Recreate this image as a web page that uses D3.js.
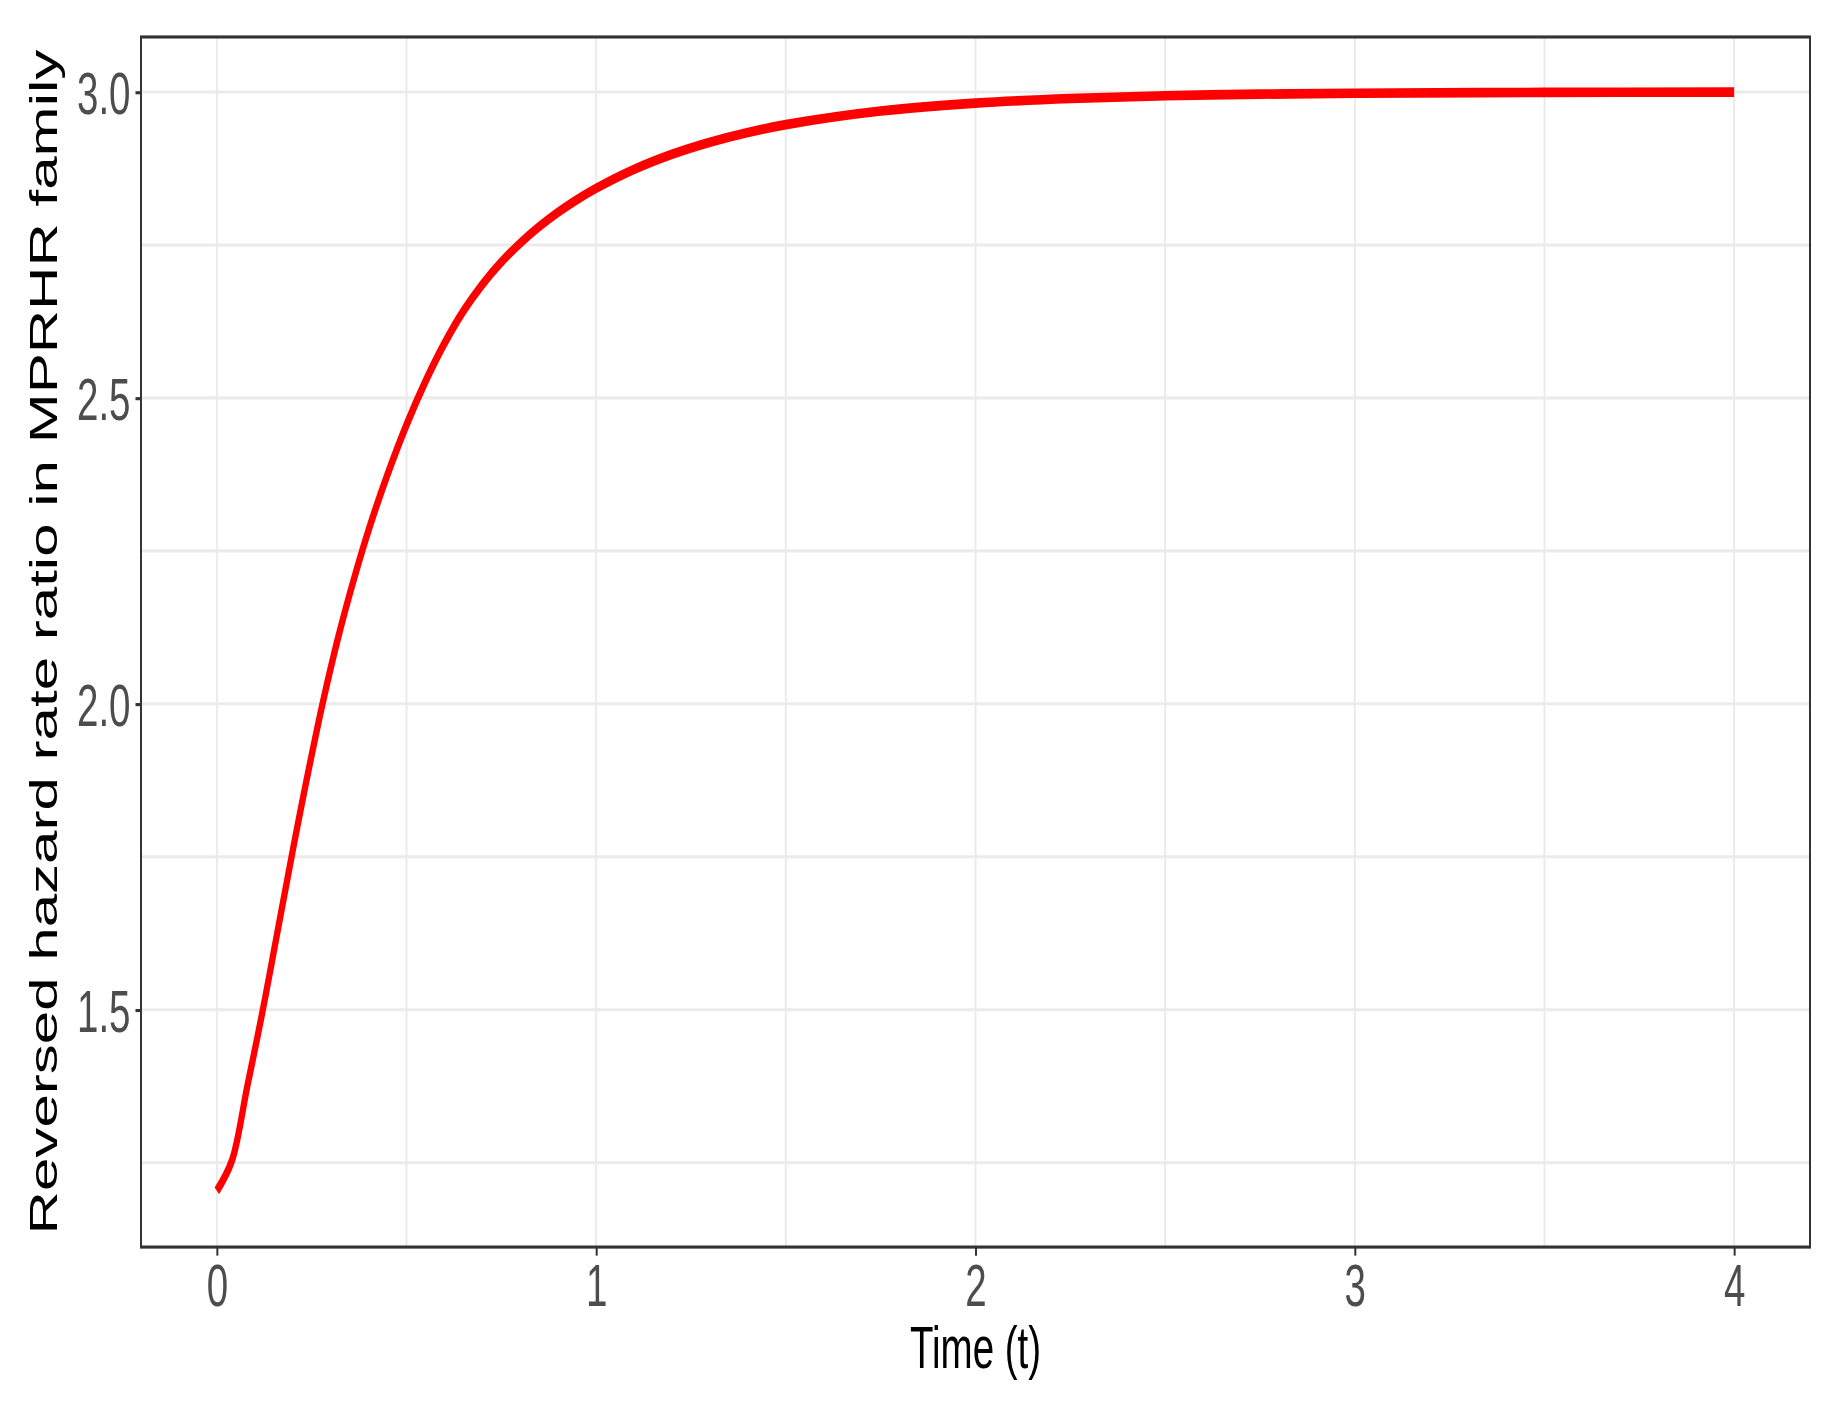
<!DOCTYPE html>
<html>
<head>
<meta charset="utf-8">
<script src="https://cdn.jsdelivr.net/npm/d3@7"></script>
<style>
  html, body { margin: 0; padding: 0; background: #ffffff; }
  svg { display: block; }
  text { font-family: "Liberation Sans", Arial, sans-serif; }
</style>
</head>
<body>
<script>
// ---- data ----
const timeValues = [0, 0.04, 0.08, 0.12, 0.16, 0.20, 0.24, 0.28, 0.32, 0.36, 0.40,
  0.45, 0.50, 0.55, 0.60, 0.65, 0.70, 0.75, 0.80, 0.85, 0.90, 0.95, 1.00,
  1.10, 1.20, 1.30, 1.40, 1.50, 1.75, 2.00, 2.25, 2.50, 2.75, 3.00, 3.50, 4.00];
const ratioValues = [1.204, 1.254, 1.374, 1.496, 1.628, 1.760, 1.886, 2.004, 2.109, 2.201, 2.284,
  2.375, 2.456, 2.527, 2.589, 2.642, 2.6855, 2.722, 2.753, 2.780, 2.8036, 2.8244, 2.8427,
  2.8736, 2.8983, 2.918, 2.9339, 2.9467, 2.9689, 2.9818, 2.9894, 2.9938, 2.9964, 2.9979, 2.9993, 2.9998];
const xTickValues = [0, 1, 2, 3, 4];
const xTickLabels = ["0", "1", "2", "3", "4"];
const xMinorValues = [0.5, 1.5, 2.5, 3.5];
const yTickValues = [1.5, 2.0, 2.5, 3.0];
const yTickLabels = ["1.5", "2.0", "2.5", "3.0"];
const yMinorValues = [1.25, 1.75, 2.25, 2.75];
const xTitle = "Time (t)";
const yTitle = "Reversed hazard rate ratio in MPRHR family";

// ---- layout ----
const W = 1840, H = 1404;
const stretch = 1.56;             // the reference is stretched vertically
const panel = { left: 141, right: 1810, top: 23.7, bottom: 799.4 };
const fontSize = 38.5;

const svg = d3.select("body").append("svg")
  .attr("width", W).attr("height", H);
svg.append("rect").attr("width", W).attr("height", H).attr("fill", "#ffffff");

const g = svg.append("g").attr("transform", `scale(1, ${stretch})`);

const data = timeValues.map((t, i) => ({ t, v: ratioValues[i] }));

// ggplot-like 5% expansion
const xExt = d3.extent(timeValues), yExt = [1.202, 3.0];
const xPad = (xExt[1] - xExt[0]) * 0.05, yPad = (yExt[1] - yExt[0]) * 0.05;
const x = d3.scaleLinear().domain([xExt[0] - xPad, xExt[1] + xPad]).range([panel.left, panel.right]);
const y = d3.scaleLinear().domain([yExt[0] - yPad, yExt[1] + yPad]).range([panel.bottom, panel.top]);

// grid
const grid = g.append("g").attr("stroke", "#EBEBEB").attr("stroke-width", 2);
grid.selectAll("line.vx").data(xMinorValues.concat(xTickValues)).enter().append("line")
  .attr("x1", d => x(d)).attr("x2", d => x(d))
  .attr("y1", panel.top).attr("y2", panel.bottom);
grid.selectAll("line.hy").data(yMinorValues.concat(yTickValues)).enter().append("line")
  .attr("x1", panel.left).attr("x2", panel.right)
  .attr("y1", d => y(d)).attr("y2", d => y(d));

// curve
const line = d3.line().x(d => x(d.t)).y(d => y(d.v)).curve(d3.curveCatmullRom.alpha(0.5));
g.append("path").datum(data)
  .attr("d", line)
  .attr("fill", "none")
  .attr("stroke", "#FF0000")
  .attr("stroke-width", 6.2)
  .attr("stroke-linecap", "butt")
  .attr("stroke-linejoin", "round");

// panel border
g.append("rect")
  .attr("x", panel.left).attr("y", panel.top)
  .attr("width", panel.right - panel.left).attr("height", panel.bottom - panel.top)
  .attr("fill", "none").attr("stroke", "#333333").attr("stroke-width", 2);

// axes
const xAxis = d3.axisBottom(x).tickValues(xTickValues)
  .tickFormat((d, i) => xTickLabels[i]).tickSizeInner(5.5).tickSizeOuter(0).tickPadding(3);
const xg = g.append("g").attr("transform", `translate(0, ${panel.bottom})`).call(xAxis);
xg.select(".domain").remove();
xg.selectAll(".tick line").attr("stroke", "#333333").attr("stroke-width", 2);
xg.selectAll(".tick text")
  .attr("fill", "#4D4D4D").attr("font-size", fontSize)
  .attr("font-family", "Liberation Sans, Arial, sans-serif")
  .attr("dy", null).attr("y", 837.0 - panel.bottom);

const yAxis = d3.axisLeft(y).tickValues(yTickValues)
  .tickFormat((d, i) => yTickLabels[i]).tickSizeInner(5.5).tickSizeOuter(0).tickPadding(5);
const yg = g.append("g").attr("transform", `translate(${panel.left}, 0)`).call(yAxis);
yg.select(".domain").remove();
yg.selectAll(".tick line").attr("stroke", "#333333").attr("stroke-width", 2);
yg.selectAll(".tick text")
  .attr("fill", "#4D4D4D").attr("font-size", fontSize)
  .attr("font-family", "Liberation Sans, Arial, sans-serif")
  .attr("x", -10.5).attr("dy", "0.36em");

// titles
g.append("text")
  .attr("x", (panel.left + panel.right) / 2).attr("y", 877)
  .attr("text-anchor", "middle").attr("font-size", fontSize).attr("fill", "#000000")
  .text(xTitle);

g.append("text")
  .attr("transform", `translate(57, ${(panel.top + panel.bottom) / 2}) rotate(-90)`)
  .attr("text-anchor", "middle").attr("font-size", fontSize).attr("fill", "#000000")
  .text(yTitle);
</script>
</body>
</html>
